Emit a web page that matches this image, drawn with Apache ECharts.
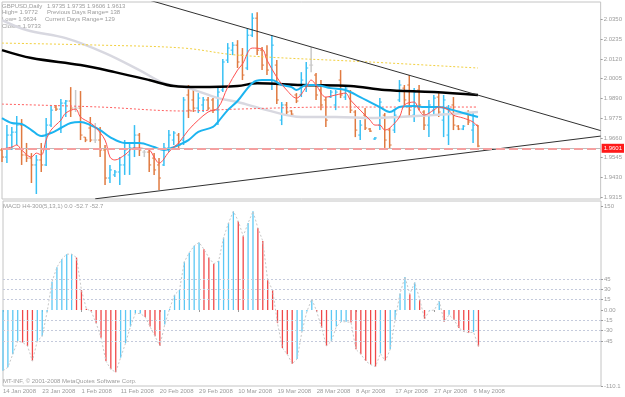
<!DOCTYPE html>
<html>
<head>
<meta charset="utf-8">
<script src="https://cdn.jsdelivr.net/npm/echarts@6/dist/echarts.min.js"></script>
<style>
  html, body { margin: 0; padding: 0; background: #fff; }
  #chart { width: 625px; height: 397px; }
</style>
</head>
<body>
<div id="chart"></div>
<script>
// trading days on the chart (Sunday bars, no Saturdays)
const janDays = [14,15,16,17,18,20,21,22,23,24,25,27,28,29,30,31];
const febDays = [1,3,4,5,6,7,8,10,11,12,13,14,15,17,18,19,20,21,22,24,25,26,27,28,29];
const marDays = [2,3,4,5,6,7,9,10,11,12,13,14,16,17,18,19,20,21,23,24,25,26,27,28,31];
const aprDays = [1,2,3,4,6,7,8,9,10,11,13,14,15,16,17,18,20,21,22,23,24,25,27,28,29,30];
const mayDays = [1,2,4,5,6,7];
const futureSlots = 25; // empty space right of the last bar

// daily OHLC, GBPUSD
const opens = [1.9590,1.9549,1.9677,1.9694,1.9735,1.9561,1.9543,1.9503,1.9532,1.9503,
  1.9735,1.9840,1.9828,1.9863,1.9875,1.9834,1.9834,1.9665,1.9718,1.9648,
  1.9648,1.9590,1.9427,1.9445,1.9462,1.9503,1.9561,1.9602,1.9677,1.9578,
  1.9578,1.9543,1.9503,1.9503,1.9602,1.9648,1.9677,1.9648,1.9910,1.9881,
  1.9834,1.9852,1.9881,1.9881,1.9822,1.9939,2.0113,2.0171,2.0200,2.0142,
  2.0067,2.0258,2.0357,2.0171,2.0142,1.9997,2.0084,1.9764,1.9852,1.9817,
  1.9910,1.9910,1.9968,2.0084,2.0026,1.9939,1.9881,1.9898,1.9852,1.9997,
  1.9898,1.9927,1.9811,1.9677,1.9793,1.9712,1.9654,1.9735,1.9793,1.9706,
  1.9706,1.9881,1.9950,1.9968,1.9793,1.9939,1.9811,1.9735,1.9822,1.9898,
  1.9764,1.9677,1.9852,1.9729,1.9712,1.9805,1.9706,1.9735];
const highs = [1.9602,1.9735,1.9724,1.9788,1.9770,1.9631,1.9572,1.9561,1.9631,1.9776,
  1.9846,1.9852,1.9886,1.9881,1.9956,1.9939,1.9933,1.9665,1.9782,1.9747,
  1.9724,1.9619,1.9503,1.9474,1.9549,1.9648,1.9631,1.9735,1.9689,1.9590,
  1.9602,1.9572,1.9543,1.9631,1.9706,1.9700,1.9689,1.9898,1.9968,1.9939,
  1.9921,1.9898,1.9898,1.9892,1.9956,2.0119,2.0212,2.0218,2.0229,2.0183,
  2.0299,2.0386,2.0392,2.0189,2.0200,2.0258,2.0113,1.9869,1.9869,1.9822,
  1.9921,2.0043,2.0102,2.0189,2.0038,1.9997,1.9898,1.9939,1.9939,2.0055,
  1.9968,1.9939,1.9822,1.9764,1.9834,1.9718,1.9665,1.9892,1.9805,1.9718,
  1.9822,1.9997,1.9968,2.0026,1.9950,1.9968,1.9822,1.9881,1.9910,1.9921,
  1.9910,1.9852,1.9898,1.9735,1.9735,1.9822,1.9805,1.9735];
const lows = [1.9520,1.9515,1.9590,1.9619,1.9503,1.9520,1.9398,1.9334,1.9462,1.9497,
  1.9724,1.9817,1.9689,1.9782,1.9782,1.9811,1.9648,1.9636,1.9636,1.9631,
  1.9549,1.9386,1.9398,1.9433,1.9386,1.9445,1.9445,1.9549,1.9555,1.9549,
  1.9462,1.9445,1.9357,1.9497,1.9578,1.9619,1.9602,1.9619,1.9776,1.9811,
  1.9805,1.9811,1.9822,1.9805,1.9735,1.9927,2.0096,2.0142,2.0067,1.9997,
  2.0055,2.0247,2.0142,2.0055,2.0026,1.9939,1.9857,1.9735,1.9793,1.9788,
  1.9863,1.9898,1.9927,2.0043,1.9881,1.9822,1.9724,1.9892,1.9822,1.9892,
  1.9881,1.9805,1.9665,1.9648,1.9706,1.9695,1.9648,1.9706,1.9602,1.9602,
  1.9689,1.9869,1.9852,1.9782,1.9753,1.9822,1.9706,1.9665,1.9793,1.9782,
  1.9665,1.9619,1.9706,1.9706,1.9706,1.9735,1.9631,1.9606];
const closes = [1.9549,1.9677,1.9694,1.9735,1.9561,1.9543,1.9503,1.9532,1.9503,1.9735,
  1.9822,1.9828,1.9863,1.9875,1.9834,1.9834,1.9677,1.9648,1.9648,1.9648,
  1.9590,1.9427,1.9474,1.9462,1.9503,1.9590,1.9602,1.9677,1.9590,1.9578,
  1.9503,1.9474,1.9427,1.9602,1.9677,1.9689,1.9619,1.9881,1.9822,1.9834,
  1.9892,1.9881,1.9834,1.9822,1.9927,2.0102,2.0183,2.0200,2.0102,2.0026,
  2.0258,2.0357,2.0171,2.0084,2.0055,2.0200,1.9881,1.9852,1.9811,1.9799,
  1.9875,1.9997,2.0067,2.0084,1.9910,1.9852,1.9764,1.9927,1.9927,1.9910,
  1.9950,1.9822,1.9706,1.9735,1.9718,1.9700,1.9660,1.9869,1.9648,1.9619,
  1.9793,1.9968,1.9881,1.9822,1.9927,1.9852,1.9735,1.9852,1.9892,1.9811,
  1.9881,1.9822,1.9735,1.9712,1.9729,1.9753,1.9735,1.9613];

// moving averages: [bar index, price]
const maFast = [[0,1.9596],[2,1.9607],[3,1.9619],[4,1.9590],[6,1.9549],[7,1.9572],[8,1.9561],[9,1.9648],
  [10,1.9706],[12,1.9764],[13,1.9805],[15,1.9828],[16,1.9782],[18,1.9747],[19,1.9724],[21,1.9648],
  [22,1.9549],[23,1.9532],[25,1.9561],[27,1.9602],[30,1.9590],[31,1.9549],[32,1.9514],[34,1.9578],
  [35,1.9607],[36,1.9631],[38,1.9706],[40,1.9764],[42,1.9811],[44,1.9834],[46,1.9956],[48,2.0055],
  [49,2.0090],[51,2.0183],[53,2.0177],[54,2.0113],[56,2.0014],[58,1.9939],[60,1.9892],[62,1.9956],
  [63,1.9997],[64,1.9968],[66,1.9898],[68,1.9910],[70,1.9921],[71,1.9881],[73,1.9822],[75,1.9764],
  [76,1.9735],[77,1.9735],[78,1.9706],[79,1.9718],[81,1.9782],[82,1.9852],[84,1.9869],[85,1.9822],
  [86,1.9793],[88,1.9822],[89,1.9840],[91,1.9822],[92,1.9793],[94,1.9776],[96,1.9753],[97,1.9724]];
const maCyan = [[0,1.9776],[2,1.9747],[4,1.9741],[6,1.9706],[8,1.9671],[10,1.9689],[12,1.9718],
  [14,1.9747],[16,1.9753],[18,1.9735],[20,1.9706],[22,1.9665],[25,1.9631],[28,1.9631],[31,1.9607],
  [33,1.9590],[35,1.9607],[38,1.9648],[40,1.9695],[43,1.9724],[44,1.9753],[46,1.9822],[48,1.9875],
  [51,1.9979],[53,1.9997],[55,1.9997],[57,1.9968],[59,1.9956],[60,1.9939],[62,1.9968],[64,1.9968],
  [67,1.9950],[70,1.9939],[73,1.9898],[75,1.9869],[77,1.9840],[79,1.9811],[81,1.9840],[84,1.9846],
  [86,1.9840],[89,1.9840],[92,1.9822],[94,1.9805],[97,1.9782]];
const maBlack = [[0,2.0171],[6,2.0125],[16,2.0084],[23,2.0043],[30,1.9997],[35,1.9962],[40,1.9956],
  [48,1.9962],[52,1.9979],[61,1.9968],[71,1.9962],[78,1.9939],[88,1.9927],[97,1.9910]];
const maGray = [[0,2.0346],[5,2.0288],[13,2.0241],[21,2.0154],[28,2.0055],[33,1.9979],[38,1.9950],
  [44,1.9892],[48,1.9869],[54,1.9822],[61,1.9782],[68,1.9782],[76,1.9776],[81,1.9782],[88,1.9793],[97,1.9811]];
const maYellow = [[0,2.0212],[20,2.0200],[37,2.0183],[48,2.0142],[75,2.0102],[97,2.0067]];
const maRedDot = [[0,1.9857],[20,1.9840],[37,1.9817],[48,1.9828],[68,1.9840],[97,1.9840]];

// hand drawn trend lines: [bar index, price]
const trendUpper = [[30,2.0462],[122,1.9703]];
const trendLower = [[19,1.9306],[122,1.9671]];
const bidPrice = 1.9613;
const alertPrice = 1.9601;

// MACD H4-300(5,13,1) histogram
const macdHist = [-88,-83,-64,-45,-47,-52,-74,-45,-38,-3,
  41,62,74,81,81,76,29,2,-2,-19,
  -40,-74,-86,-90,-69,-48,-24,-5,-5,-10,
  -24,-38,-52,-21,2,22,29,70,83,93,
  98,88,76,67,71,105,126,143,129,107,
  126,143,119,100,43,29,-19,-55,-64,-78,
  -71,-31,-2,16,-2,-26,-52,-45,-24,-17,
  -17,-18,-57,-64,-74,-79,-82,-63,-74,-57,
  -14,24,48,23,40,16,-13,-1,0,13,
  -17,-7,-14,-26,-31,-33,-32,-52.7];

const priceTicks = [2.0350, 2.0235, 2.0120, 2.0005, 1.9890, 1.9775, 1.9660, 1.9545, 1.9430, 1.9315];
const macdTicks = [150, 45, 30, 15, 0, -15, -30, -45, -110.1];
const macdLevels = [45, 30, 15, -15, -30, -45];

const infoLines = [
  ['GBPUSD,Daily', '1.9735 1.9735 1.9606 1.9613'],
  ['High= 1.9772', 'Previous Days Range= 138'],
  ['Low= 1.9634', 'Current Days Range= 129'],
  ['Close= 1.9733', '']
];

// ---- build ----
const dates = [];
[['Jan', janDays], ['Feb', febDays], ['Mar', marDays], ['Apr', aprDays], ['May', mayDays]]
  .forEach(([m, days]) => days.forEach(d => dates.push(d + ' ' + m + ' 2008')));
const categories = dates.concat(new Array(futureSlots).fill(''));

const ohlc = opens.map((o, i) => [i, o, highs[i], lows[i], closes[i]]);

const grey = '#9c9c9c';
const font = 'Liberation Sans';
const upColor = '#38c0f4';
const downColor = '#e07a40';

const myChart = echarts.init(document.getElementById('chart'));

const textEl = (x, y, text) => ({
  type: 'text', x: x, y: y, silent: true,
  style: { text: text, fill: grey, font: '6px "Liberation Sans"', verticalAlign: 'middle' }
});

const graphics = [];
infoLines.forEach((l, k) => {
  const y = 6 + k * 6.8;
  graphics.push(textEl(2, y, l[0]));
  if (l[1]) graphics.push(textEl(k === 2 ? 45 : 47, y, l[1]));
});
graphics.push(textEl(3, 206.5, 'MACD H4-300(5,13,1) 0.0 -52.7 -52.7'));
graphics.push(textEl(3, 381, 'MT-INF, \u00a9 2001-2008 MetaQuotes Software Corp.'));

function maSeries(data, color, width, type) {
  return {
    type: 'line', xAxisIndex: 0, yAxisIndex: 0, data: data,
    smooth: 0.35, showSymbol: false, silent: true,
    lineStyle: { color: color, width: width, type: type || 'solid' }
  };
}

const option = {
  animation: false,
  backgroundColor: '#ffffff',
  graphic: graphics,
  grid: [
    { left: 2, right: 24, top: 2, height: 197, show: true, borderColor: '#c4c4c4', borderWidth: 1 },
    { left: 2, right: 24, top: 201, height: 185, show: true, borderColor: '#c4c4c4', borderWidth: 1 }
  ],
  xAxis: [
    {
      type: 'category', gridIndex: 0, data: categories, boundaryGap: false,
      axisLine: { show: false }, axisTick: { show: false }, axisLabel: { show: false }, splitLine: { show: false }
    },
    {
      type: 'category', gridIndex: 1, data: categories, boundaryGap: false,
      axisLine: { show: false },
      axisTick: {
        show: true, length: 2, lineStyle: { color: grey },
        interval: (idx, val) => idx % 8 === 0 && val !== ''
      },
      axisLabel: {
        color: grey, fontFamily: font, fontSize: 6, align: 'left', margin: 2,
        interval: (idx, val) => idx % 8 === 0 && val !== ''
      },
      splitLine: { show: false }
    }
  ],
  yAxis: [
    {
      type: 'value', gridIndex: 0, position: 'right', min: 1.9305, max: 2.0451,
      axisLine: { show: false }, splitLine: { show: false },
      axisTick: { show: true, length: 2, customValues: priceTicks, lineStyle: { color: grey } },
      axisLabel: {
        customValues: priceTicks, color: grey, fontFamily: font, fontSize: 6, margin: 3,
        formatter: v => v.toFixed(4)
      }
    },
    {
      type: 'value', gridIndex: 1, position: 'right', min: -110.1, max: 158,
      axisLine: { show: false }, splitLine: { show: false },
      axisTick: { show: true, length: 2, customValues: macdTicks, lineStyle: { color: grey } },
      axisLabel: {
        customValues: macdTicks, color: grey, fontFamily: font, fontSize: 6, margin: 3,
        formatter: v => (v === 0 ? '0.00' : String(v))
      }
    }
  ],
  series: [
    {
      type: 'custom', xAxisIndex: 0, yAxisIndex: 0, data: ohlc, silent: true,
      encode: { x: 0, y: [1, 2, 3, 4] },
      renderItem: function (params, api) {
        const i = api.value(0);
        const o = api.value(1), c = api.value(4);
        const pO = api.coord([i, o]);
        const pH = api.coord([i, api.value(2)]);
        const pL = api.coord([i, api.value(3)]);
        const pC = api.coord([i, c]);
        const color = c > o ? upColor : (c < o ? downColor : '#c8c8c8');
        return {
          type: 'group',
          children: [
            { type: 'line', shape: { x1: pH[0], y1: pH[1], x2: pL[0], y2: pL[1] }, style: { stroke: color, lineWidth: 1.5 } },
            { type: 'line', shape: { x1: pO[0] - 2, y1: pO[1], x2: pO[0], y2: pO[1] }, style: { stroke: color, lineWidth: 1 } },
            { type: 'line', shape: { x1: pC[0], y1: pC[1], x2: pC[0] + 2, y2: pC[1] }, style: { stroke: color, lineWidth: 1 } }
          ]
        };
      }
    },
    maSeries(maGray, '#d8d8e0', 2.5),
    maSeries(maBlack, '#000000', 2.5),
    Object.assign(maSeries(maYellow, '#f2d040', 1, [2, 2]), {
      markLine: {
        symbol: 'none', silent: true, animation: false,
        data: [
          { yAxis: bidPrice, lineStyle: { color: '#bcbcbc', width: 1, type: 'solid' }, label: { show: false } },
          {
            yAxis: alertPrice, lineStyle: { color: '#f4a0a0', width: 2, type: [9, 4] },
            label: {
              show: true, position: 'end', distance: 1, formatter: () => alertPrice.toFixed(4),
              color: '#ffffff', backgroundColor: '#ff1a1a', padding: [2, 2, 1, 2],
              fontFamily: font, fontSize: 6
            }
          }
        ]
      }
    }),
    maSeries(maRedDot, '#ff6060', 1, [2, 2]),
    maSeries(maCyan, '#1cb4f0', 2),
    maSeries(maFast, '#ff5050', 1),
    {
      type: 'line', xAxisIndex: 0, yAxisIndex: 0, data: trendUpper, showSymbol: false, silent: true,
      lineStyle: { color: '#303030', width: 1 }
    },
    {
      type: 'line', xAxisIndex: 0, yAxisIndex: 0, data: trendLower, showSymbol: false, silent: true,
      lineStyle: { color: '#303030', width: 1 }
    },
    {
      type: 'bar', xAxisIndex: 1, yAxisIndex: 1, barWidth: 1.3, silent: true,
      data: macdHist.map((v, i) => ({
        value: v,
        itemStyle: { color: (i > 0 && v < macdHist[i - 1]) ? '#f04848' : '#5cc8f4' }
      }))
    },
    {
      type: 'line', xAxisIndex: 1, yAxisIndex: 1, data: macdHist, showSymbol: false, silent: true,
      lineStyle: { color: '#c8c8c8', width: 1, type: [2, 2] },
      markLine: {
        symbol: 'none', silent: true, animation: false, label: { show: false },
        lineStyle: { color: '#c4cadc', width: 1, type: [2, 2] },
        data: macdLevels.map(v => ({ yAxis: v }))
      }
    }
  ]
};

myChart.setOption(option);
</script>
</body>
</html>
